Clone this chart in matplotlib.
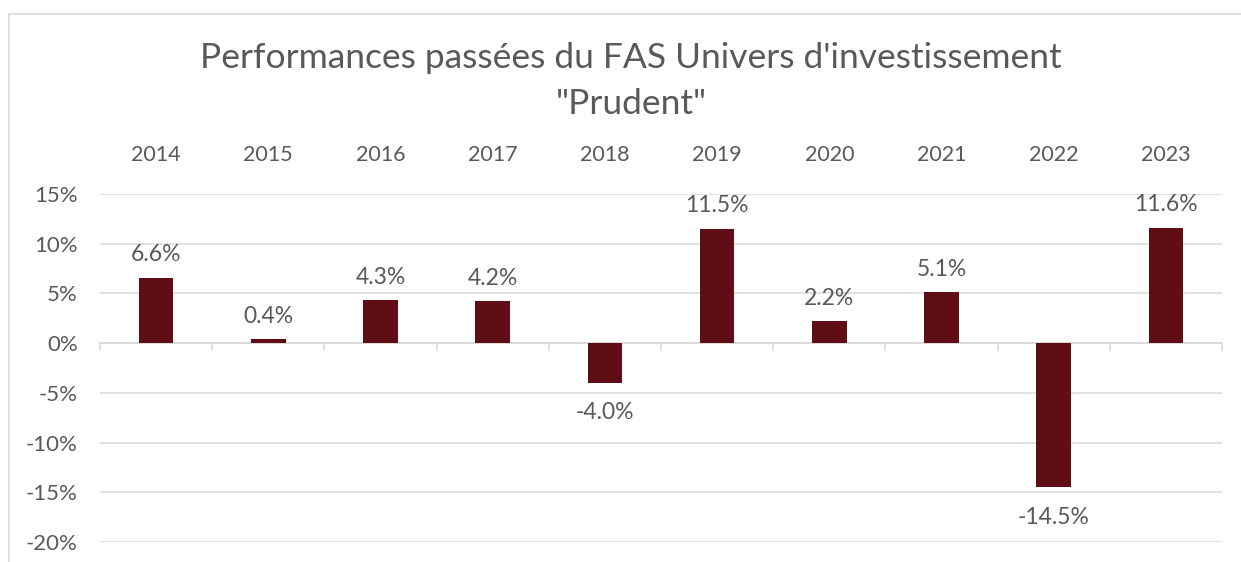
import matplotlib
matplotlib.use('Agg')
import matplotlib.pyplot as plt
from matplotlib.patches import Rectangle
from matplotlib.ticker import FuncFormatter, FixedLocator

years = ['2014', '2015', '2016', '2017', '2018', '2019', '2020', '2021', '2022', '2023']
perf = [6.6, 0.4, 4.3, 4.2, -4.0, 11.5, 2.2, 5.1, -14.5, 11.6]
yticks = [-20, -15, -10, -5, 0, 5, 10, 15]
title = 'Performances passées du FAS Univers d\'investissement\n"Prudent"'

bar_color = '#5F0E15'
text_color = '#595959'
grid_color = '#D9D9D9'

plt.rcParams['font.family'] = ['Lato', 'DejaVu Sans']

W, H = 1241, 562
fig = plt.figure(figsize=(W / 100, H / 100), dpi=100)
fig.patch.set_facecolor('white')

# chart frame (only left and top edges visible in the crop)
fig.patches.append(Rectangle((9 / W, -0.2), 1.2, 1.2 - 14 / H, transform=fig.transFigure,
                             fill=False, edgecolor=grid_color, linewidth=1.2))

ax = fig.add_axes([100 / W, 1 - 542 / H, (1222 - 100) / W, (542 - 194) / H])
x = list(range(len(years)))
ax.bar(x, perf, width=0.31, color=bar_color, zorder=3)

for xi, v in zip(x, perf):
    if v >= 0:
        ax.annotate(f'{v:.1f}%', (xi, v), xytext=(0, 9), textcoords='offset points',
                    ha='center', va='bottom', fontsize=16.5, color=text_color)
    else:
        ax.annotate(f'{v:.1f}%', (xi, v), xytext=(0, -14), textcoords='offset points',
                    ha='center', va='top', fontsize=16.5, color=text_color)

ax.set_xlim(-0.5, len(years) - 0.5)
ax.set_ylim(-20, 15)
ax.set_yticks(yticks)
ax.yaxis.set_major_formatter(FuncFormatter(lambda v, p: f'{v:.0f}%'))
ax.grid(axis='y', color=grid_color, linewidth=1.1, zorder=0)
ax.tick_params(axis='y', length=0, pad=16, labelsize=16, labelcolor=text_color)

# year labels above the plot, category boundary ticks on the zero line
ax.set_xticks(x)
ax.set_xticklabels(years)
ax.xaxis.set_minor_locator(FixedLocator([i - 0.5 for i in range(len(years) + 1)]))
ax.tick_params(axis='x', which='major', length=0, labeltop=True, labelbottom=False,
               pad=21, labelsize=15.5, labelcolor=text_color)
ax.tick_params(axis='x', which='minor', direction='out', length=6, width=1.1,
               color=grid_color, top=False, bottom=True)

for s in ['left', 'right', 'top']:
    ax.spines[s].set_visible(False)
ax.spines['bottom'].set_position(('data', 0))
ax.spines['bottom'].set_color(grid_color)
ax.spines['bottom'].set_linewidth(1.1)
ax.spines['bottom'].set_zorder(2)

fig.text(631 / W, 1 - 81 / H, title, ha='center', va='center', fontsize=25.5,
         color=text_color, linespacing=1.5)

fig.savefig('out.png', dpi=100)
